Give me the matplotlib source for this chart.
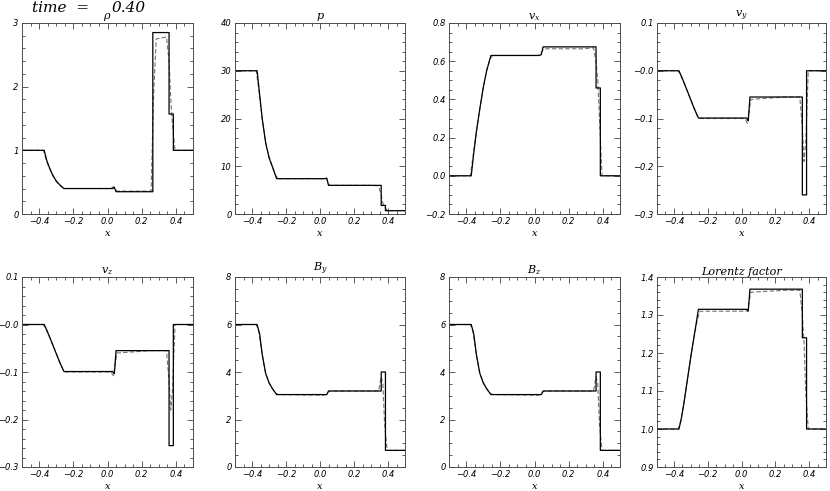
import numpy as np
import matplotlib
matplotlib.use('Agg')
import matplotlib.pyplot as plt
from matplotlib.ticker import FixedLocator, FixedFormatter, MultipleLocator

plt.rcParams['mathtext.fontset'] = 'dejavuserif'

# exact solution, shared x breakpoints (repeated x = jump)
x_ex = [-0.5, -0.37, -0.355, -0.34, -0.32, -0.30, -0.28, -0.255,
        0.03, 0.04, 0.05, 0.265, 0.265, 0.36, 0.36, 0.385, 0.385, 0.5]
rho_ex = [1.0, 1.0, 0.84, 0.73, 0.61, 0.52, 0.46, 0.40,
          0.40, 0.42, 0.35, 0.35, 2.85, 2.85, 1.57, 1.57, 1.0, 1.0]
p_ex = [30, 30, 25, 20, 15, 11.8, 9.9, 7.4,
        7.4, 7.5, 6.0, 6.0, 6.0, 6.0, 1.8, 1.8, 0.7, 0.7]
vx_ex = [0.0, 0.0, 0.12, 0.23, 0.35, 0.46, 0.55, 0.63,
         0.63, 0.635, 0.675, 0.675, 0.675, 0.675, 0.46, 0.46, 0.0, 0.0]
vy_ex = [0.0, 0.0, -0.012, -0.025, -0.043, -0.061, -0.079, -0.099,
         -0.099, -0.105, -0.055, -0.055, -0.055, -0.055, -0.26, -0.26, 0.0, 0.0]
vz_ex = [0.0, 0.0, -0.012, -0.025, -0.043, -0.061, -0.079, -0.099,
         -0.099, -0.104, -0.055, -0.055, -0.055, -0.055, -0.255, -0.255, 0.0, 0.0]
by_ex = [6.0, 6.0, 5.6, 4.75, 3.95, 3.55, 3.3, 3.05,
         3.05, 3.05, 3.2, 3.2, 3.2, 3.2, 4.0, 4.0, 0.7, 0.7]
bz_ex = [6.0, 6.0, 5.6, 4.75, 3.95, 3.55, 3.3, 3.05,
         3.05, 3.05, 3.2, 3.2, 3.2, 3.2, 4.0, 4.0, 0.7, 0.7]
lor_ex = [1.0, 1.0, 1.03, 1.07, 1.13, 1.19, 1.245, 1.315,
          1.315, 1.31, 1.368, 1.368, 1.368, 1.368, 1.24, 1.24, 1.0, 1.0]

# numerical run (dashed), smeared discontinuities
x_num = [-0.5, -0.375, -0.36, -0.34, -0.32, -0.30, -0.28, -0.26, -0.245,
         0.02, 0.035, 0.055, 0.255, 0.27, 0.285, 0.345, 0.36, 0.37, 0.38, 0.395, 0.5]
rho_num = [1.0, 1.0, 0.86, 0.72, 0.60, 0.51, 0.45, 0.41, 0.40,
           0.40, 0.43, 0.36, 0.36, 1.9, 2.75, 2.78, 2.4, 1.8, 1.4, 1.0, 1.0]
p_num = [30, 30, 26, 20, 15, 12, 9.9, 8.0, 7.4,
         7.4, 7.6, 6.0, 6.0, 6.0, 6.0, 5.9, 4.0, 2.2, 1.5, 0.7, 0.7]
vx_num = [0.0, 0.0, 0.1, 0.23, 0.35, 0.46, 0.55, 0.61, 0.63,
          0.63, 0.64, 0.665, 0.665, 0.665, 0.665, 0.67, 0.6, 0.5, 0.3, 0.0, 0.0]
vy_num = [0.0, 0.0, -0.01, -0.025, -0.043, -0.061, -0.079, -0.095, -0.1,
          -0.1, -0.11, -0.06, -0.055, -0.055, -0.055, -0.055, -0.12, -0.19, -0.15, 0.0, 0.0]
vz_num = [0.0, 0.0, -0.01, -0.025, -0.043, -0.061, -0.079, -0.095, -0.1,
          -0.1, -0.108, -0.06, -0.055, -0.055, -0.055, -0.055, -0.12, -0.18, -0.14, 0.0, 0.0]
by_num = [6.0, 6.0, 5.7, 4.7, 3.95, 3.55, 3.3, 3.1, 3.05,
          3.02, 3.05, 3.2, 3.2, 3.2, 3.2, 3.2, 3.8, 3.5, 1.8, 0.7, 0.7]
bz_num = [6.0, 6.0, 5.7, 4.7, 3.95, 3.55, 3.3, 3.1, 3.05,
          3.02, 3.05, 3.2, 3.2, 3.2, 3.2, 3.2, 3.8, 3.5, 1.8, 0.7, 0.7]
lor_num = [1.0, 1.0, 1.02, 1.07, 1.13, 1.19, 1.245, 1.29, 1.31,
           1.31, 1.31, 1.36, 1.365, 1.365, 1.365, 1.365, 1.3, 1.23, 1.1, 1.0, 1.0]

titles = [r'$\rho$', r'$p$', r'$v_x$', r'$v_y$', r'$v_z$', r'$B_y$', r'$B_z$', 'Lorentz factor']
ylims = [(0, 3), (0, 40), (-0.2, 0.8), (-0.3, 0.1), (-0.3, 0.1), (0, 8), (0, 8), (0.9, 1.4)]
yticks = [[0, 1, 2, 3], [0, 10, 20, 30, 40], [-0.2, 0.0, 0.2, 0.4, 0.6, 0.8],
          [-0.3, -0.2, -0.1, 0.0, 0.1], [-0.3, -0.2, -0.1, 0.0, 0.1],
          [0, 2, 4, 6, 8], [0, 2, 4, 6, 8], [0.9, 1.0, 1.1, 1.2, 1.3, 1.4]]
ylabs = [['0', '1', '2', '3'], ['0', '10', '20', '30', '40'],
         ['\u22120.2', '0.0', '0.2', '0.4', '0.6', '0.8'],
         ['\u22120.3', '\u22120.2', '\u22120.1', '\u22120.0', '0.1'],
         ['\u22120.3', '\u22120.2', '\u22120.1', '\u22120.0', '0.1'],
         ['0', '2', '4', '6', '8'], ['0', '2', '4', '6', '8'],
         ['0.9', '1.0', '1.1', '1.2', '1.3', '1.4']]
yminor = [0.2, 2, 0.05, 0.02, 0.02, 0.5, 0.5, 0.02]
xticks = [-0.4, -0.2, 0.0, 0.2, 0.4]
xlabs = ['\u22120.4', '\u22120.2', '0.0', '0.2', '0.4']

exact = [rho_ex, p_ex, vx_ex, vy_ex, vz_ex, by_ex, bz_ex, lor_ex]
numer = [rho_num, p_num, vx_num, vy_num, vz_num, by_num, bz_num, lor_num]

W, H = 830, 491
fig = plt.figure(figsize=(W / 100, H / 100), dpi=100)
cols = [(22, 193), (235, 405), (449, 620), (657, 826)]
rows = [(23, 214), (277, 467)]

for i in range(8):
    r, c = divmod(i, 4)
    x0, x1 = cols[c]
    t0, b0 = rows[r]
    ax = fig.add_axes([x0 / W, 1 - b0 / H, (x1 - x0) / W, (b0 - t0) / H])
    ax.plot(x_num, numer[i], color='0.45', lw=0.8, ls=(0, (4, 2)))
    ax.plot(x_ex, exact[i], color='black', lw=0.9)
    ax.set_xlim(-0.5, 0.5)
    ax.set_ylim(*ylims[i])
    ax.xaxis.set_major_locator(FixedLocator(xticks))
    ax.xaxis.set_major_formatter(FixedFormatter(xlabs))
    ax.xaxis.set_minor_locator(MultipleLocator(0.05))
    ax.yaxis.set_major_locator(FixedLocator(yticks[i]))
    ax.yaxis.set_major_formatter(FixedFormatter(ylabs[i]))
    ax.yaxis.set_minor_locator(MultipleLocator(yminor[i]))
    ax.tick_params(which='both', direction='in', top=True, right=True,
                   colors='0.25', labelcolor='black', width=0.6)
    ax.tick_params(which='major', length=4, labelsize=6, pad=2.5)
    ax.tick_params(which='minor', length=2)
    for lab in ax.get_xticklabels() + ax.get_yticklabels():
        lab.set_fontstyle('oblique')
    for s in ax.spines.values():
        s.set_color('0.3')
        s.set_linewidth(0.7)
    if i == 7:
        ax.set_title(titles[i], fontsize=8, family='DejaVu Serif', style='italic', pad=1.5)
    else:
        ax.set_title(titles[i], fontsize=8, pad=1)
    ax.set_xlabel(r'$x$', fontsize=7, labelpad=1)

fig.text(32 / W, 1 - 8 / H, 'time  =', fontsize=11, family='DejaVu Serif',
         style='italic', ha='left', va='center')
fig.text(112 / W, 1 - 8 / H, '0.40', fontsize=11, family='DejaVu Serif',
         style='italic', ha='left', va='center')

fig.savefig('out.png', dpi=100)
